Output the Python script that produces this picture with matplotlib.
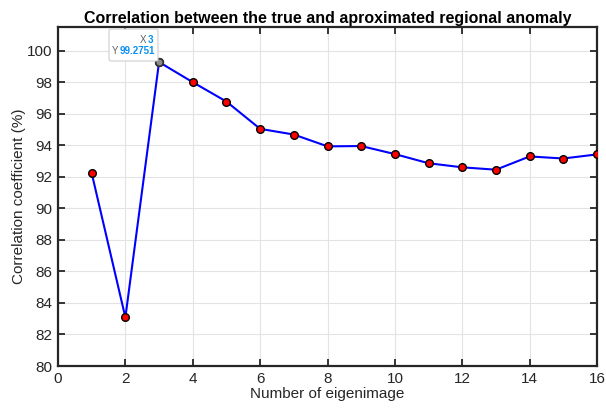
import matplotlib
matplotlib.use("Agg")
import matplotlib.pyplot as plt
from matplotlib.patches import FancyBboxPatch

# Correlation coefficient vs number of eigenimages
n_eigen = [1, 2, 3, 4, 5, 6, 7, 8, 9, 10, 11, 12, 13, 14, 15, 16]
corr = [92.23, 83.08, 99.2751, 98.0, 96.77, 95.04, 94.68, 93.93, 93.95,
        93.44, 92.86, 92.60, 92.45, 93.29, 93.16, 93.42]
x_ticks = list(range(0, 17, 2))
y_ticks = list(range(80, 101, 2))
tip_index = 2

plt.rcParams["font.family"] = ["Liberation Sans", "DejaVu Sans"]

W, H = 606, 408
fig = plt.figure(figsize=(W / 100, H / 100), dpi=100)
ax = fig.add_axes([58 / W, 1 - 366 / H, 539 / W, 339 / H])

ax.plot(n_eigen, corr, color="#0000ff", lw=1.5, zorder=3)
ax.plot(n_eigen, corr, ls="none", marker="o", ms=5.5, mfc="red",
        mec="black", mew=1.0, zorder=4)
# data tip marker
ax.plot(n_eigen[tip_index], corr[tip_index], ls="none", marker="o", ms=5.5,
        mfc="#8c8c8c", mec="#303030", mew=1.2, zorder=5)

ax.set_xlim(0, 16)
ax.set_ylim(80, 101.5)
ax.set_xticks(x_ticks)
ax.set_yticks(y_ticks)
ax.tick_params(direction="in", top=True, right=True, length=5, width=1.3,
               labelsize=11, colors="#262626", labelcolor="#262626", pad=4)
ax.grid(True, color="#e3e3e3", lw=0.8)
ax.set_axisbelow(True)
for s in ax.spines.values():
    s.set_linewidth(1.6)
    s.set_color("#262626")

ax.set_xlabel("Number of eigenimage", fontsize=11, color="#262626", labelpad=1)
ax.set_ylabel("Correlation coefficient (%)", fontsize=11, color="#262626",
              labelpad=1)
ax.set_title("Correlation between the true and aproximated regional anomaly",
             fontsize=11.5, fontweight="bold", pad=3)

# data tip box
tx, ty = n_eigen[tip_index], corr[tip_index]
fig.patches.append(FancyBboxPatch(
    (109 / W, 1 - 61 / H), 49 / W, 32 / H,
    boxstyle="round,pad=0,rounding_size=0.004", transform=fig.transFigure,
    facecolor="white", edgecolor="#cfcfcf", lw=0.8, zorder=10))
fig.text(149 / W, 1 - 40 / H, "X ", fontsize=7, color="#606060",
         ha="right", va="center", zorder=11)
fig.text(148 / W, 1 - 40 / H, f"{tx:g}", fontsize=7, color="#0a8ff0",
         fontweight="bold", ha="left", va="center", zorder=11)
fig.text(121 / W, 1 - 51 / H, "Y ", fontsize=7, color="#606060",
         ha="right", va="center", zorder=11)
fig.text(120 / W, 1 - 51 / H, f"{ty:g}", fontsize=7, color="#0a8ff0",
         fontweight="bold", ha="left", va="center", zorder=11)

fig.savefig("out.png", dpi=100)
